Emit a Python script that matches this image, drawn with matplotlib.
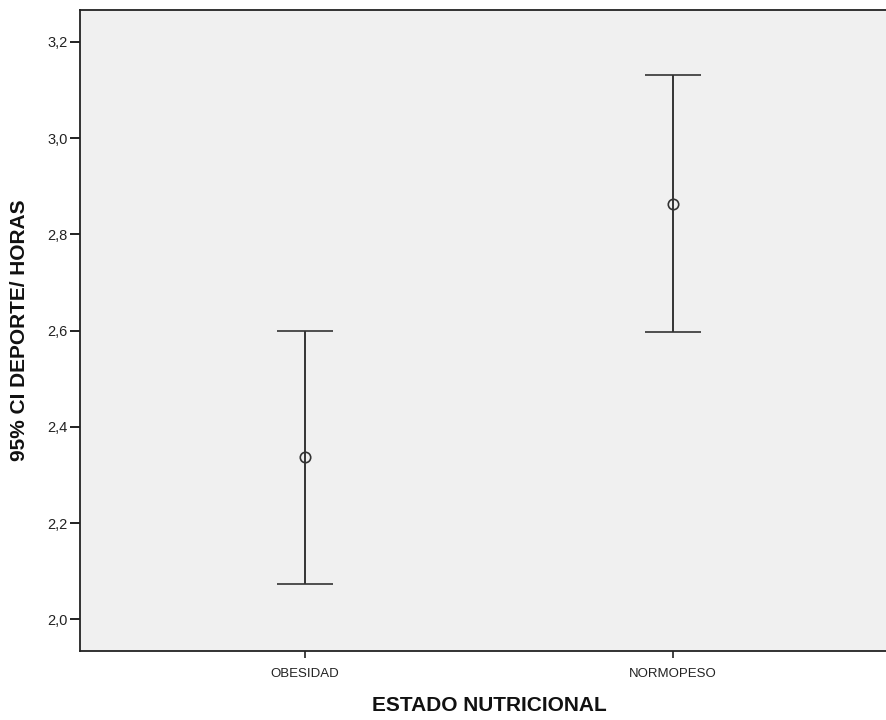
import matplotlib
matplotlib.use("Agg")
import matplotlib.pyplot as plt
from matplotlib.ticker import FuncFormatter, FixedLocator

plt.rcParams['font.family'] = ['Liberation Sans', 'DejaVu Sans']

# Mean and 95% confidence interval of weekly sport hours per nutritional group
categories = ["OBESIDAD", "NORMOPESO"]
means = [2.337, 2.863]
ci_lower = [2.073, 2.597]
ci_upper = [2.599, 3.131]
yticks = [2.0, 2.2, 2.4, 2.6, 2.8, 3.0, 3.2]

W, H = 886, 720
fig = plt.figure(figsize=(W / 100, H / 100), dpi=100)
left, right, top, bottom = 80, 898, 10, 651
ax = fig.add_axes([left / W, (H - bottom) / H, (right - left) / W, (bottom - top) / H])
ax.set_facecolor("#f0f0f0")

xs = list(range(len(categories)))
err_lo = [m - lo for m, lo in zip(means, ci_lower)]
err_hi = [hi - m for m, hi in zip(means, ci_upper)]
ax.errorbar(xs, means, yerr=[err_lo, err_hi], fmt="o", mfc="none", mec="#333333",
            ms=7.5, mew=1.2, ecolor="#333333", elinewidth=1.4, capsize=20,
            capthick=1.4, zorder=3)

ax.set_xlim(-0.6114, 1.6114)
ax.set_ylim(1.934, 3.2665)
ax.yaxis.set_major_locator(FixedLocator(yticks))
ax.yaxis.set_major_formatter(FuncFormatter(lambda v, p: f"{v:.1f}".replace(".", ",")))
ax.set_xticks(xs)
ax.set_xticklabels(categories)

for side in ("left", "bottom", "top", "right"):
    ax.spines[side].set_color("#222222")
    ax.spines[side].set_linewidth(1.3)

ax.tick_params(axis="y", length=7, width=1.4, color="#222222", labelsize=10.5,
               labelcolor="#222222", pad=2)
ax.tick_params(axis="x", length=5, width=1.2, color="#222222", labelsize=9.5,
               labelcolor="#222222", pad=7)

ax.set_xlabel("ESTADO NUTRICIONAL", fontsize=15, fontweight="bold", labelpad=12,
              color="#111111")
ax.set_ylabel("95% CI DEPORTE/ HORAS", fontsize=15, fontweight="bold", labelpad=13,
              color="#111111")

fig.savefig("out.png", dpi=100)
